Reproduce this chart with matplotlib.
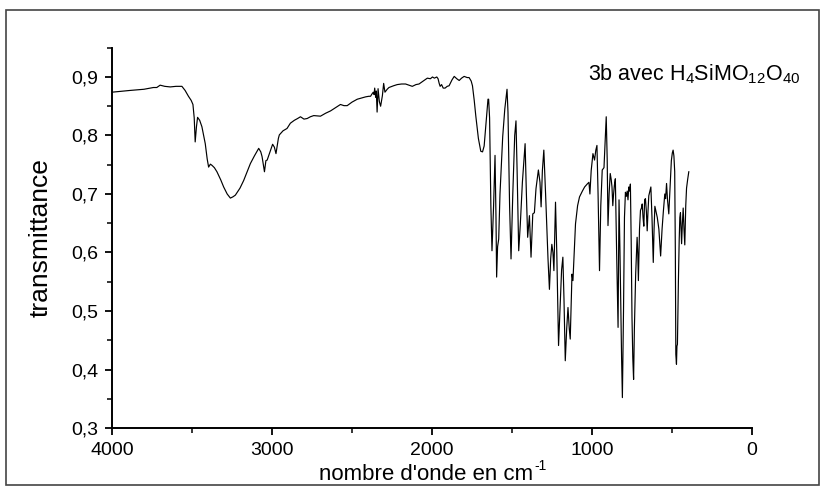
import matplotlib
matplotlib.use("Agg")
import matplotlib.pyplot as plt
from matplotlib.ticker import MultipleLocator, FuncFormatter
from matplotlib.patches import Rectangle

plt.rcParams['font.family'] = ['Liberation Sans', 'DejaVu Sans']
plt.rcParams['mathtext.fontset'] = 'custom'
plt.rcParams['mathtext.rm'] = 'Liberation Sans'
plt.rcParams['mathtext.it'] = 'Liberation Sans'

# IR spectrum: wavenumber (cm-1) and transmittance
wavenumber = [
    4000, 3887, 3800, 3741, 3720, 3699, 3670, 3636, 3600, 3563, 3543, 3522,
    3505, 3494, 3486, 3480, 3472, 3465, 3452, 3438, 3417, 3405, 3396, 3385,
    3375, 3360, 3344, 3320, 3302, 3280, 3260, 3245, 3229, 3200, 3177, 3155,
    3135, 3110, 3083, 3070, 3062, 3047, 3038, 3030, 3015, 2996, 2985, 2975,
    2960, 2954, 2931, 2906, 2885, 2860, 2840, 2822, 2800, 2780, 2760, 2739,
    2697, 2665, 2634, 2600, 2572, 2550, 2530, 2500, 2467, 2440, 2415, 2395,
    2384, 2375, 2367, 2362, 2358, 2352, 2348, 2343, 2337, 2329, 2321, 2310,
    2302, 2294, 2280, 2269, 2240, 2217, 2190, 2165, 2145, 2123, 2100, 2081,
    2065, 2050, 2029, 2010, 1997, 1985, 1970, 1962, 1955, 1949, 1940, 1930,
    1918, 1905, 1893, 1875, 1861, 1845, 1830, 1815, 1799, 1780, 1768, 1755,
    1747, 1736, 1726, 1710, 1695, 1684, 1674, 1660, 1650, 1646, 1640, 1632,
    1625, 1615, 1606, 1600, 1596, 1590, 1583, 1575, 1558, 1545, 1531, 1525,
    1515, 1506, 1495, 1483, 1475, 1468, 1458, 1448, 1435, 1418, 1410, 1402,
    1391, 1381, 1370, 1360, 1350, 1335, 1325, 1318, 1310, 1301, 1290, 1275,
    1266, 1258, 1251, 1244, 1238, 1228, 1220, 1209, 1200, 1190, 1182, 1175,
    1167, 1158, 1150, 1142, 1136, 1125, 1119, 1103, 1090, 1078, 1060, 1046,
    1030, 1019, 1013, 1005, 994, 984, 976, 969, 962, 953, 945, 936,
    925, 918, 911, 905, 900, 893, 886, 880, 875, 870, 865, 860,
    854, 846, 837, 831, 825, 815, 810, 803, 797, 791, 785, 780,
    775, 770, 765, 760, 755, 750, 745, 740, 735, 727, 722, 718,
    714, 710, 703, 697, 691, 686, 681, 676, 671, 666, 660, 655,
    650, 645, 638, 632, 625, 617, 612, 607, 600, 592, 582, 576,
    571, 562, 554, 545, 540, 534, 528, 520, 512, 504, 498, 493,
    488, 483, 479, 476, 472, 469, 466, 460, 455, 451, 447, 443,
    440, 435, 430, 425, 420, 414, 409, 402, 395,
]
transmittance = [
    0.874, 0.877, 0.879, 0.882, 0.882, 0.886, 0.884, 0.883, 0.884, 0.884, 0.877, 0.867,
    0.860, 0.853, 0.830, 0.789, 0.815, 0.831, 0.826, 0.815, 0.786, 0.760, 0.746, 0.751,
    0.749, 0.745, 0.738, 0.724, 0.712, 0.700, 0.693, 0.695, 0.698, 0.710, 0.723, 0.738,
    0.752, 0.765, 0.778, 0.772, 0.764, 0.738, 0.757, 0.758, 0.770, 0.785, 0.780, 0.769,
    0.795, 0.801, 0.808, 0.812, 0.821, 0.826, 0.829, 0.832, 0.828, 0.829, 0.832, 0.834,
    0.833, 0.838, 0.842, 0.848, 0.853, 0.851, 0.851, 0.857, 0.862, 0.864, 0.866, 0.867,
    0.867, 0.871, 0.874, 0.870, 0.881, 0.865, 0.876, 0.840, 0.880, 0.858, 0.850, 0.868,
    0.889, 0.874, 0.879, 0.882, 0.885, 0.887, 0.888, 0.888, 0.886, 0.884, 0.887, 0.888,
    0.891, 0.894, 0.898, 0.897, 0.900, 0.898, 0.900, 0.897, 0.889, 0.884, 0.887, 0.881,
    0.881, 0.884, 0.885, 0.895, 0.901, 0.897, 0.894, 0.898, 0.901, 0.899, 0.899, 0.893,
    0.885, 0.860, 0.833, 0.795, 0.773, 0.772, 0.782, 0.830, 0.862, 0.862, 0.830, 0.680,
    0.603, 0.680, 0.766, 0.660, 0.558, 0.610, 0.623, 0.700, 0.798, 0.845, 0.879, 0.840,
    0.680, 0.589, 0.700, 0.800, 0.825, 0.740, 0.603, 0.648, 0.720, 0.786, 0.700, 0.626,
    0.663, 0.592, 0.666, 0.668, 0.709, 0.741, 0.720, 0.678, 0.740, 0.775, 0.700, 0.590,
    0.537, 0.590, 0.614, 0.600, 0.569, 0.686, 0.600, 0.441, 0.500, 0.570, 0.592, 0.520,
    0.415, 0.470, 0.506, 0.470, 0.452, 0.563, 0.552, 0.649, 0.680, 0.695, 0.705, 0.712,
    0.717, 0.720, 0.700, 0.740, 0.769, 0.758, 0.775, 0.783, 0.700, 0.569, 0.680, 0.741,
    0.745, 0.790, 0.832, 0.760, 0.646, 0.700, 0.735, 0.725, 0.712, 0.680, 0.700, 0.715,
    0.726, 0.600, 0.472, 0.690, 0.600, 0.420, 0.352, 0.500, 0.660, 0.703, 0.696, 0.705,
    0.690, 0.712, 0.705, 0.717, 0.620, 0.489, 0.420, 0.383, 0.470, 0.563, 0.600, 0.626,
    0.600, 0.552, 0.640, 0.672, 0.676, 0.683, 0.660, 0.645, 0.690, 0.692, 0.670, 0.637,
    0.670, 0.697, 0.705, 0.712, 0.660, 0.583, 0.640, 0.679, 0.670, 0.660, 0.640, 0.615,
    0.594, 0.640, 0.670, 0.700, 0.692, 0.718, 0.690, 0.666, 0.710, 0.757, 0.770, 0.775,
    0.765, 0.738, 0.600, 0.426, 0.409, 0.440, 0.443, 0.550, 0.621, 0.660, 0.668, 0.640,
    0.615, 0.650, 0.676, 0.640, 0.613, 0.680, 0.710, 0.725, 0.738,
]

x_ticks = [4000, 3000, 2000, 1000, 0]
y_ticks = [0.3, 0.4, 0.5, 0.6, 0.7, 0.8, 0.9]
sample_label = r"3b avec H$_4$SiMO$_{12}$O$_{40}$"

fig = plt.figure(figsize=(8.27, 4.86), dpi=100)
ax = fig.add_axes([0.1354, 0.1193, 0.7739, 0.7825])

ax.plot(wavenumber, transmittance, color='black', lw=0.85)

ax.set_xlim(4000, 0)
ax.set_ylim(0.3, 0.95)
ax.set_xticks(x_ticks)
ax.set_yticks(y_ticks)
ax.xaxis.set_minor_locator(MultipleLocator(500))
ax.yaxis.set_minor_locator(MultipleLocator(0.05))
ax.yaxis.set_major_formatter(FuncFormatter(lambda v, p: f"{v:.1f}".replace('.', ',')))

for s in ('top', 'right'):
    ax.spines[s].set_visible(False)
for s in ('left', 'bottom'):
    ax.spines[s].set_linewidth(1.4)

ax.tick_params(which='major', direction='out', length=5, width=1.3,
               labelsize=14, pad=5)
ax.tick_params(which='minor', direction='out', length=3.5, width=1.1)

xlab = ax.set_xlabel("nombre d'onde en cm", fontsize=16, labelpad=4)
ax.set_ylabel("transmittance", fontsize=19, labelpad=13)

ax.text(0.744, 0.915, sample_label, transform=ax.transAxes, fontsize=15.5,
        ha='left', va='baseline')

# raised "-1" exponent right after the x-axis label
fig.canvas.draw()
xlab.set_x(xlab.get_position()[0] - 6 / (ax.get_position().width * 827))
fig.canvas.draw()
bb = xlab.get_window_extent()
fig.text((bb.x1 + 1) / 827, (bb.y1 - 6) / 486, "-1", fontsize=10,
         ha='left', va='baseline')

fig.patches.append(Rectangle((6 / 827, 1 / 486), 813 / 827, 475 / 486,
                             transform=fig.transFigure, fill=False,
                             edgecolor='#444444', lw=1.2))

fig.savefig("out.png", dpi=100)
